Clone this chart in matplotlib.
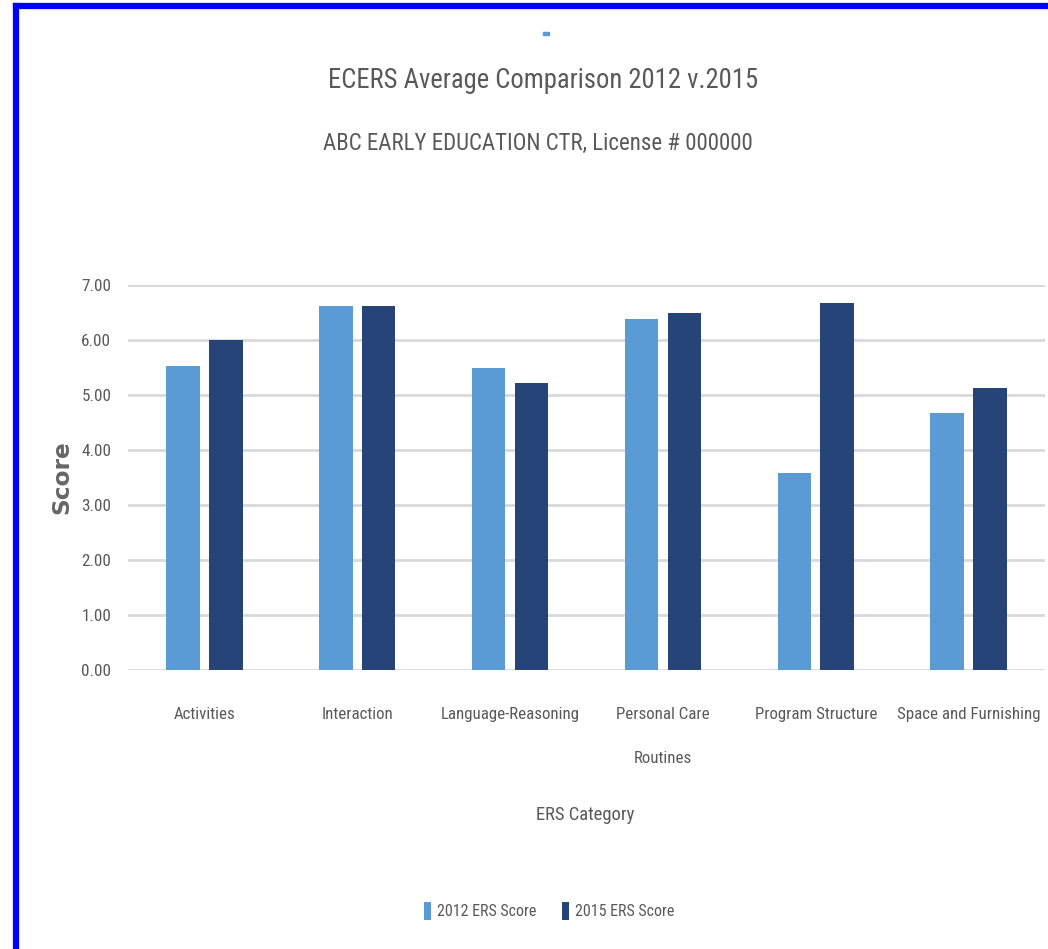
import matplotlib
matplotlib.use('Agg')
import matplotlib.pyplot as plt
from matplotlib.lines import Line2D
from matplotlib.patches import Rectangle
from matplotlib import font_manager
import numpy as np

# ERS category scores for the two review years
categories = ['Activities', 'Interaction', 'Language-Reasoning',
              'Personal Care\nRoutines', 'Program Structure', 'Space and Furnishing']
score_2012 = [5.53, 6.62, 5.49, 6.39, 3.59, 4.67]
score_2015 = [6.00, 6.62, 5.21, 6.50, 6.67, 5.12]
series_names = ['2012 ERS Score', '2015 ERS Score']
yticks = [0, 1, 2, 3, 4, 5, 6, 7]

c2012 = '#5B9BD5'
c2015 = '#264478'
grey = '#595959'


def narrow_family():
    # condensed sans face with the weight nearest to regular
    fonts = font_manager.fontManager.ttflist
    names = ['Open Sans Condensed', 'Roboto Condensed', 'Liberation Sans Narrow',
             'Noto Sans Condensed', 'Open Sans Condensed Light', 'Roboto Condensed Light']
    hits = [f for f in fonts if f.style == 'normal' and
            (f.name in names or f.stretch in ('condensed', 'semi-condensed'))]
    if not hits:
        return 'Roboto', 400
    best = min(hits, key=lambda f: (abs(int(f.weight) - 400), names.index(f.name)
                                    if f.name in names else 99))
    return best.name, int(best.weight)


fam, wt = narrow_family()
plt.rcParams['font.family'] = [fam, 'DejaVu Sans']
plt.rcParams['font.weight'] = wt
txt_col = grey if wt < 600 else '#6a6a6a'

W, H = 1048, 949
fig = plt.figure(figsize=(W / 100, H / 100), dpi=100)
fig.patch.set_facecolor('white')

ax = fig.add_axes([128 / W, 1 - 670 / H, 917 / W, 385 / H])

x = np.arange(len(categories))
bw = 0.22
off = 0.14
ax.bar(x - off, score_2012, bw, color=c2012, label=series_names[0], zorder=3)
ax.bar(x + off, score_2015, bw, color=c2015, label=series_names[1], zorder=3)

ax.set_xlim(-0.5, len(categories) - 0.5)
ax.set_ylim(0, 7)
ax.set_yticks(yticks)
ax.set_yticklabels(['%.2f' % v for v in yticks], fontsize=15, color=txt_col)
ax.set_xticks(x)
ax.set_xticklabels(categories, fontsize=15, color=txt_col)
ax.tick_params(axis='both', length=0)
ax.tick_params(axis='y', pad=12)
ax.grid(axis='y', color='#D9D9D9', linewidth=2, zorder=0)
for s in ax.spines.values():
    s.set_visible(False)

ylab = ax.set_ylabel('Score', fontsize=15, color='#666666', family='DejaVu Sans',
                     fontweight='bold', labelpad=6)

xlab = fig.text(585 / W, 1 - 815 / H, 'ERS Category', ha='center', va='center',
                fontsize=16, color=txt_col)
title = fig.text(543 / W, 1 - 80 / H, 'ECERS Average Comparison 2012 v.2015',
                 ha='center', va='center', fontsize=24, color=txt_col)
sub = fig.text(538 / W, 1 - 143 / H, 'ABC EARLY EDUCATION CTR, License # 000000',
               ha='center', va='center', fontsize=17, color=txt_col)
probe = fig.text(0.5, 0.5, series_names[0], fontsize=15)

fig.canvas.draw()
rend = fig.canvas.get_renderer()


def fit(t, px, vertical=False):
    bb = t.get_window_extent(rend)
    w = bb.height if vertical else bb.width
    t.set_fontsize(t.get_fontsize() * px / w)
    return t.get_fontsize()


fit(title, 430)
fit(sub, 430)
fit(xlab, 99)
fit(ylab, 74, vertical=True)
xs = fit(ax.get_xticklabels()[2], 140)
ys = fit(ax.get_yticklabels()[-1], 30)
ls = fit(probe, 100)
probe.remove()
for t in ax.get_xticklabels():
    t.set_fontsize(xs)
    t.set_linespacing(69 / (xs * 100 / 72 * 1.2))
for t in ax.get_yticklabels():
    t.set_fontsize(ys)
ax.tick_params(axis='x', pad=42 - xs * 100 / 72 * 0.9)

leg = fig.legend(loc='center', bbox_to_anchor=(549 / W, 1 - 911 / H), ncol=2,
                 frameon=False, fontsize=ls, handlelength=0.45, handleheight=1.3,
                 handletextpad=0.35, columnspacing=1.6)
for t in leg.get_texts():
    t.set_color(txt_col)

# small blue tick above the title
fig.add_artist(Rectangle((543 / W, 1 - 35 / H), 6 / W, 3 / H,
                         transform=fig.transFigure, color=c2012))

# blue frame along top and left edges
fig.add_artist(Line2D([16 / W, 16 / W], [0, 1 - 6 / H], color='#0000FF',
                      linewidth=4.5, solid_capstyle='projecting',
                      transform=fig.transFigure))
fig.add_artist(Line2D([16 / W, 1], [1 - 6 / H, 1 - 6 / H], color='#0000FF',
                      linewidth=4.5, solid_capstyle='projecting',
                      transform=fig.transFigure))

fig.savefig('out.png', dpi=100, facecolor='white')
